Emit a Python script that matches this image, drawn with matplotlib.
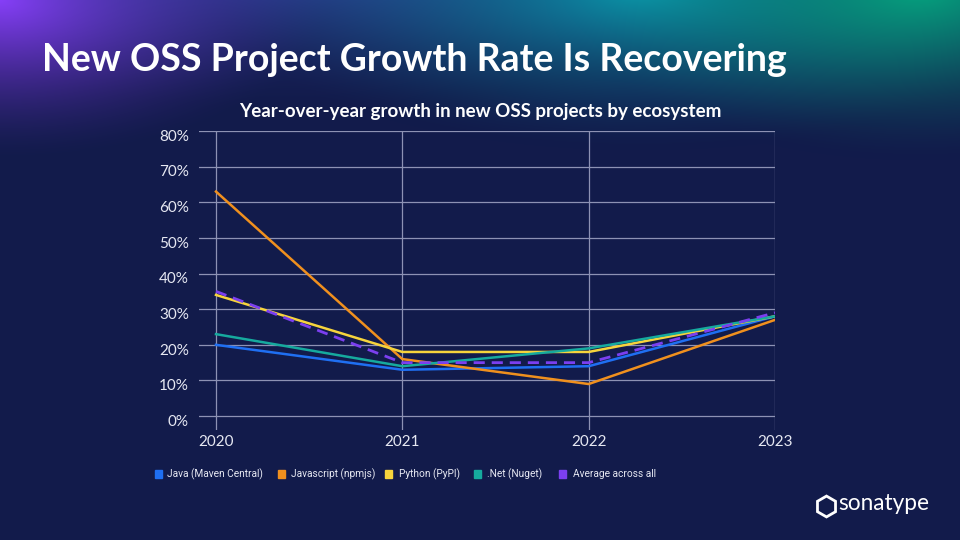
import numpy as np
import matplotlib
matplotlib.use("Agg")
import matplotlib.pyplot as plt
from matplotlib.patches import Rectangle

years = [2020, 2021, 2022, 2023]
java = [20, 13, 14, 28]
javascript = [63, 16, 9, 27]
python = [34, 18, 18, 28]
dotnet = [23, 14, 19, 28]
average = [35, 15, 15, 29]
series_names = ["Java (Maven Central)", "Javascript (npmjs)", "Python (PyPI)", ".Net (Nuget)", "Average across all"]
y_ticks = [0, 10, 20, 30, 40, 50, 60, 70, 80]

colors = ["#1f6ff2", "#f0901e", "#f6d43c", "#16aa9e", "#7b3ff0"]
BG = "#121b4b"
FONT = ["Lato", "DejaVu Sans"]

W, H = 960, 540
fig = plt.figure(figsize=(9.6, 5.4), dpi=100)
fig.patch.set_facecolor(BG)

# background gradient
bg = fig.add_axes([0, 0, 1, 1])
bg.set_axis_off()
yy, xx = np.mgrid[0:H, 0:W]
base = np.array([0x12, 0x1b, 0x4b]) / 255.0
img = np.ones((H, W, 3)) * base
def blob(cx, cy, rx, ry, col, strength):
    global img
    d = np.sqrt(((xx - cx) / rx) ** 2 + ((yy - cy) / ry) ** 2)
    w = np.clip(1 - d, 0, 1) ** 1.5 * strength
    img = img * (1 - w[..., None]) + np.array(col)[None, None, :] * w[..., None]
blob(0, 0, 330, 160, [0.56, 0.24, 1.0], 0.98)
blob(300, -40, 450, 150, [0.27, 0.33, 0.80], 0.6)
blob(640, -10, 430, 160, [0.04, 0.62, 0.70], 0.92)
blob(920, -10, 360, 170, [0.02, 0.66, 0.50], 0.95)
bg.imshow(img, extent=[0, W, 0, H], aspect="auto", zorder=0)
bg.set_xlim(0, W); bg.set_ylim(0, H)

# main axes: x 199..775 px, y 131..430 px (from top)
ax = fig.add_axes([199 / W, 1 - 430 / H, (775 - 199) / W, (430 - 131) / H])
ax.set_facecolor("none")
for s in ax.spines.values():
    s.set_visible(False)
x0 = 2020 - 17 / 186.5
ax.set_xlim(x0, 2023)
ax.set_ylim(-3.9, 80)
grid_c = "#8d92b4"
for yv in y_ticks:
    ax.plot([x0, 2023], [yv, yv], color=grid_c, lw=0.9, zorder=1)
for xv in years:
    ax.plot([xv, xv], [-3.9, 80], color=grid_c, lw=0.9, zorder=1)
ax.set_xticks([]); ax.set_yticks([])
for yv in y_ticks:
    ax.text(x0 - 0.055, yv - 1.6, f"{yv}%", ha="right", va="center", color="#e6e8f2",
            fontsize=11, family=FONT)
for xv in years:
    ax.text(xv, -7.3, str(xv), ha="center", va="center", color="#e6e8f2",
            fontsize=11, family=FONT)

data = [java, javascript, python, dotnet, average]
order = [3, 0, 2, 1, 4]
for i in order:
    if i == 4:
        ax.plot(years, data[i], color=colors[i], lw=2.0, ls=(0, (4, 2.5)), zorder=6)
    else:
        ax.plot(years, data[i], color=colors[i], lw=1.8, zorder=3 + i * 0.1)

# titles
fig.text(42 / W, 1 - 60 / H, "New OSS Project Growth Rate Is Recovering", color="white",
         fontsize=27, fontweight="bold", family=FONT, ha="left", va="center")
fig.text(480 / W, 1 - 112 / H, "Year-over-year growth in new OSS projects by ecosystem",
         color="white", fontsize=13.5, fontweight="bold", family=FONT, ha="center", va="center")

# legend
leg_x = [158, 281, 388, 477, 562]
txt_x = [167, 291, 399, 487, 573]
for i, name in enumerate(series_names):
    fig.patches.append(Rectangle(((leg_x[i] - 3.5) / W, 1 - 478 / H), 7 / W, 8 / H,
                                 transform=fig.transFigure, color=colors[i], zorder=5))
    fig.text(txt_x[i] / W, 1 - 474 / H, name, color="#e6e8f2", fontsize=7.3,
             family=["Roboto", "DejaVu Sans"], ha="left", va="center")

# logo
bg.plot([826], [H - 506], marker="h", markersize=15, markerfacecolor="none",
        markeredgecolor="white", markeredgewidth=2.0, zorder=5)
fig.text(838 / W, 1 - 504 / H, "sonatype", color="white", fontsize=16.3,
         family=FONT, ha="left", va="center")

fig.savefig("out.png", dpi=100, facecolor=BG)
